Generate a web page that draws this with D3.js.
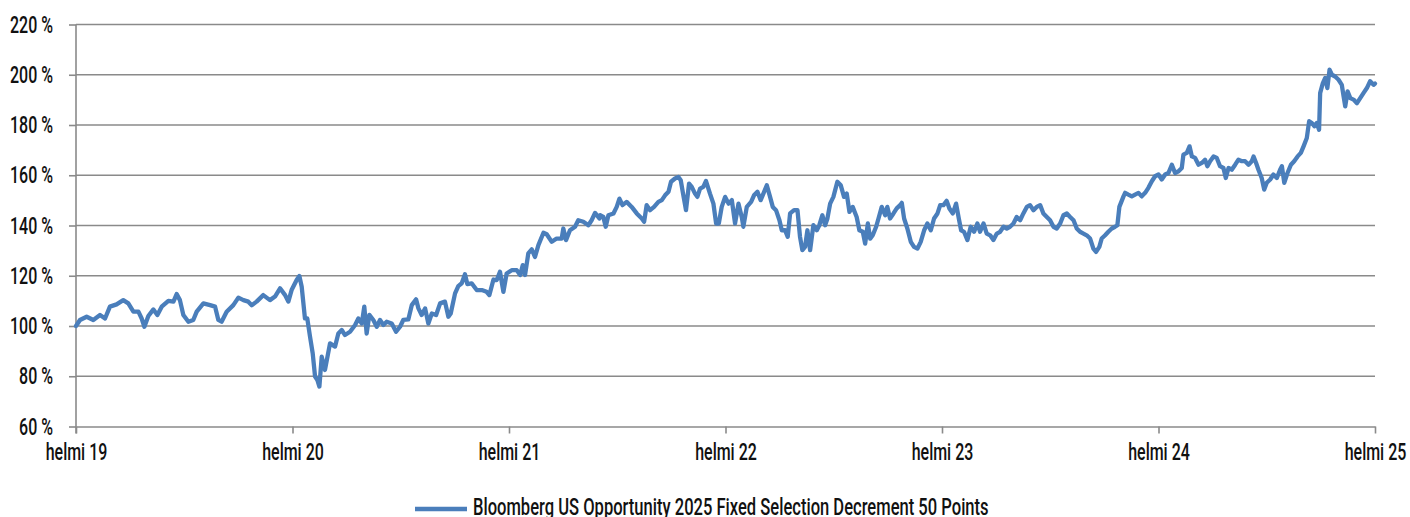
<!DOCTYPE html>
<html>
<head>
<meta charset="utf-8">
<script src="https://cdn.jsdelivr.net/npm/d3@7"></script>
<style>
  body { margin: 0; background: #fff; }
  text { font-family: "Roboto", "Liberation Sans", sans-serif; font-weight: 500; fill: #111; }
</style>
</head>
<body>
<div id="graph1"></div>
<script>
// months since Feb 2019, index level in %
var lvl2019 = [[0,100],[0.22,102.4],[0.59,103.7],[0.96,102.4],[1.33,104.4],[1.61,103],[1.88,107.7],[2.25,108.6],[2.62,110.3],[2.90,109],[3.18,105.7],[3.46,105.7],[3.64,103],[3.79,99.7],[4.01,104],[4.29,106.6],[4.51,104.4],[4.75,107.7],[5.12,110],[5.40,109.7],[5.58,112.7],[5.76,110.3],[5.95,104.4],[6.23,101.7],[6.50,102.4],[6.69,105.7],[7.06,109],[7.43,108.3],[7.71,107.7],[7.89,102.4],[8.07,101.7],[8.35,105.7],[8.72,108.3],[9.00,111.3],[9.28,110.3],[9.55,109.7],[9.74,108.3],[10.01,109.7],[10.38,112.3],[10.75,110.3],[11.03,111.7],[11.31,115],[11.59,112.3],[11.77,109.7],[11.95,114.3]];
var lvl2020 = [[12.23,118.3],[12.38,119.9],[12.51,115.6],[12.69,103],[12.82,103],[12.97,95.8],[13.12,89.1],[13.25,79.9],[13.38,78.5],[13.49,75.9],[13.62,87.8],[13.80,82.5],[14.08,93.1],[14.36,91.8],[14.54,97],[14.73,98.4],[14.91,96.4],[15.19,97.7],[15.47,100.4],[15.65,103],[15.84,101],[15.98,107.7],[16.11,97],[16.26,104.4],[16.48,102.4],[16.67,99.7],[16.85,102.4],[17.04,100.4],[17.22,101.7],[17.50,101],[17.74,97.7],[17.96,99.7],[18.14,102.4],[18.42,102.6],[18.61,108.3],[18.85,110.6],[18.98,107],[19.16,104.4],[19.35,107],[19.53,101],[19.72,105],[19.96,104.4],[20.18,109],[20.45,109.7],[20.64,103.7],[20.77,105],[21.01,113],[21.19,115.9],[21.38,117],[21.56,120.6],[21.69,116.7],[21.93,117],[22.21,114.3],[22.49,114.3],[22.76,113.6],[22.91,112.3],[23.14,118.5],[23.32,118.3],[23.50,121.6],[23.69,113.6],[23.87,120.9]];
var lvl2021 = [[24.15,122.2],[24.43,122.2],[24.62,120.3],[24.76,124.2],[24.89,120.3],[25.07,128.9],[25.26,130.5],[25.44,127.5],[25.63,132.2],[25.91,137.1],[26.09,136.5],[26.37,133.5],[26.64,134.8],[26.92,134.8],[27.01,138.8],[27.16,134.2],[27.38,138.1],[27.66,139.5],[27.84,142.1],[28.12,141.5],[28.40,140.1],[28.58,142.1],[28.77,145],[29.01,142.8],[29.05,144.1],[29.23,143.4],[29.36,139.5],[29.51,144.1],[29.79,144.8],[29.97,147.4],[30.12,150.7],[30.29,148.1],[30.52,149.4],[30.80,147.4],[31.08,144.8],[31.36,142.8],[31.49,141.5],[31.63,148.1],[31.82,146.1],[32.04,147.4],[32.28,149.4],[32.47,150.1],[32.65,152],[32.84,153.4],[32.98,157.4],[33.20,158.7],[33.39,159.3],[33.52,158],[33.63,153.4],[33.81,146.1],[33.98,156.7],[34.13,155.4],[34.31,152.7],[34.44,151.4],[34.59,154.7],[34.77,155.4],[34.92,157.7],[35.14,152.7],[35.33,148.7],[35.48,140.8],[35.63,140.8],[35.79,147.4]];
var lvl2022 = [[35.98,151.4],[36.17,148.7],[36.35,150.1],[36.53,140.8],[36.72,148.7],[36.90,143.4],[36.99,139.5],[37.18,147.4],[37.42,149.4],[37.58,152],[37.77,153.4],[37.95,150.1],[38.10,152.7],[38.29,156],[38.47,151.4],[38.62,147.4],[38.80,146.1],[38.99,142.1],[39.12,138.1],[39.30,138.1],[39.45,135.5],[39.58,144.8],[39.80,146.1],[39.99,146.1],[40.13,135.5],[40.26,130.2],[40.41,131.5],[40.54,138.1],[40.69,130.2],[40.87,140.1],[41.06,138.1],[41.20,140.1],[41.37,144.1],[41.52,140.1],[41.65,142.8],[41.80,148.7],[41.98,151.4],[42.20,157.4],[42.39,156],[42.57,151.4],[42.72,152.7],[42.87,145.4],[43.05,147.4],[43.27,143.4],[43.42,138.1],[43.61,137.5],[43.74,132.8],[43.89,140.8],[44.02,134.8],[44.16,136.1],[44.35,139.5],[44.48,142.8],[44.66,147.4],[44.85,144.1],[44.97,147.4],[45.12,142.8],[45.31,144.8],[45.49,146.8],[45.68,148.1],[45.77,149],[45.90,142.8],[46.08,138.8],[46.27,133.5],[46.45,131.5],[46.64,130.8],[46.82,133.5],[47.01,138.1],[47.19,140.8],[47.38,138.1],[47.56,142.8],[47.75,144.8],[47.90,148.1]];
var lvl2023 = [[48.08,148.1],[48.26,149.8],[48.41,146.8],[48.60,144.8],[48.78,148.7],[48.93,142.8],[49.06,138.1],[49.22,137.5],[49.41,134.2],[49.59,139.5],[49.78,137.5],[49.96,140.8],[50.11,137.5],[50.30,140.8],[50.48,136.8],[50.67,136.1],[50.85,134.2],[51.04,136.8],[51.22,137.5],[51.41,139.5],[51.59,138.8],[51.77,139.5],[51.96,140.8],[52.14,143.4],[52.33,142.1],[52.51,144.8],[52.70,147.4],[52.88,148.1],[53.07,146.1],[53.25,147.4],[53.44,148.1],[53.62,144.8],[53.81,143.4],[53.99,142.1],[54.18,139.5],[54.36,138.8],[54.55,140.8],[54.73,144.1],[54.92,144.8],[55.10,143.4],[55.29,142.1],[55.47,138.8],[55.65,137.5],[55.84,136.8],[56.02,136.1],[56.21,134.8],[56.39,130.8],[56.54,129.5],[56.72,131.5],[56.85,134.8],[57.04,136.1],[57.22,137.5],[57.41,138.8],[57.59,139.5],[57.72,140.1],[57.83,147.4],[58.06,151.6],[58.15,153],[58.33,152.3],[58.52,151.6],[58.70,152.3],[58.89,153],[59.07,151.6],[59.26,153],[59.44,155],[59.63,157.6],[59.81,159.6]];
var lvl2024 = [[60.00,160.3],[60.18,158.3],[60.37,160.3],[60.55,160.9],[60.74,164.2],[60.92,160.9],[61.11,161.6],[61.29,162.9],[61.38,168.2],[61.57,168.9],[61.72,171.5],[61.85,167.5],[62.03,166.9],[62.22,164.2],[62.40,164.9],[62.58,166.2],[62.71,163.6],[62.86,165.6],[63.05,167.5],[63.23,166.9],[63.41,163.6],[63.60,162.9],[63.73,158.9],[63.88,162.9],[64.06,162.2],[64.25,164.2],[64.43,166.2],[64.62,165.6],[64.80,165.6],[64.99,164.2],[65.17,165.6],[65.27,167.5],[65.41,164.9],[65.54,162.2],[65.72,158.9],[65.86,154.3],[66.00,157],[66.19,158.3],[66.37,160.3],[66.56,158.9],[66.74,162.2],[66.84,163.6],[66.97,157],[67.15,160.9],[67.34,164.2],[67.52,165.6],[67.71,167.5],[67.89,168.9],[68.04,171.5],[68.22,174.8],[68.35,181.5],[68.50,180.8],[68.64,179.5],[68.77,180.8],[68.90,178.1],[68.96,192.7],[69.11,196.7],[69.24,198.7],[69.36,194.7],[69.48,202],[69.61,200],[69.79,199.3],[69.98,198],[70.16,196],[70.26,191.4],[70.35,187.4],[70.48,193.4],[70.63,190.7],[70.81,190.1],[71.00,188.7],[71.18,190.7],[71.36,192.7],[71.55,194.7],[71.73,197.4],[71.92,196],[72,196.5]];

var yTicks = [60,80,100,120,140,160,180,200,220];
var xTicks = [0,12,24,36,48,60,72];
var xLabels = ["helmi 19","helmi 20","helmi 21","helmi 22","helmi 23","helmi 24","helmi 25"];
var seriesName = "Bloomberg US Opportunity 2025 Fixed Selection Decrement 50 Points";

var squeeze = 0.68;  // no condensed face installed, so squash Roboto

function draw_chart(){
  var data = lvl2019.concat(lvl2020, lvl2021, lvl2022, lvl2023, lvl2024);
  var W = 1410, H = 517;
  var left = 76, right = 1375, top = 24.5, bottom = 426.5;

  var xscale = d3.scaleLinear().domain([0,72]).range([left,right]);
  var yscale = d3.scaleLinear().domain([60,220]).range([bottom,top]);

  var svg = d3.select("#graph1").append("svg")
    .attr("width", W)
    .attr("height", H);

  // gridlines
  svg.append("g")
    .selectAll("line")
    .data(yTicks.slice(1))
    .enter().append("line")
      .attr("x1", left).attr("x2", right)
      .attr("y1", function(d){ return yscale(d) })
      .attr("y2", function(d){ return yscale(d) })
      .attr("stroke", "#8a8a8a")
      .attr("stroke-width", 1.6);

  var yAxis = svg.append("g")
    .attr("transform", "translate(" + left + ",0)")
    .call(d3.axisLeft(yscale).tickValues(yTicks).tickSize(7)
      .tickFormat(function(d){ return d + " %" }));

  var xAxis = svg.append("g")
    .attr("transform", "translate(0," + bottom + ")")
    .call(d3.axisBottom(xscale).tickValues(xTicks).tickSize(7).tickSizeOuter(0).tickPadding(10)
      .tickFormat(function(d,i){ return xLabels[i] }));

  [yAxis, xAxis].forEach(function(ax){
    ax.selectAll("path, line").attr("stroke", "#8a8a8a").attr("stroke-width", 1.6);
    ax.selectAll("text").style("font-size", "23.5px").attr("fill", "#111")
      .attr("transform", "scale(" + squeeze + ",1)");
  });
  yAxis.selectAll("text").attr("x", -23 / squeeze);
  yAxis.select(".domain").attr("d", "M0," + top + "V" + (bottom + 7));

  var line = d3.line()
    .x(function(d){ return xscale(d[0]) })
    .y(function(d){ return yscale(d[1]) });

  svg.append("path")
    .datum(data)
    .attr("fill", "none")
    .attr("stroke", "#4a7ebb")
    .attr("stroke-width", 4.3)
    .attr("stroke-linejoin", "round")
    .attr("stroke-linecap", "round")
    .attr("d", line);

  // legend
  svg.append("line")
    .attr("x1", 415).attr("x2", 467)
    .attr("y1", 509).attr("y2", 509)
    .attr("stroke", "#4a7ebb").attr("stroke-width", 4.5);
  svg.append("g")
    .attr("transform", "translate(473,515) scale(0.69,1)")
    .append("text")
    .style("font-size", "24px")
    .text(seriesName);
}

draw_chart();
</script>
</body>
</html>
